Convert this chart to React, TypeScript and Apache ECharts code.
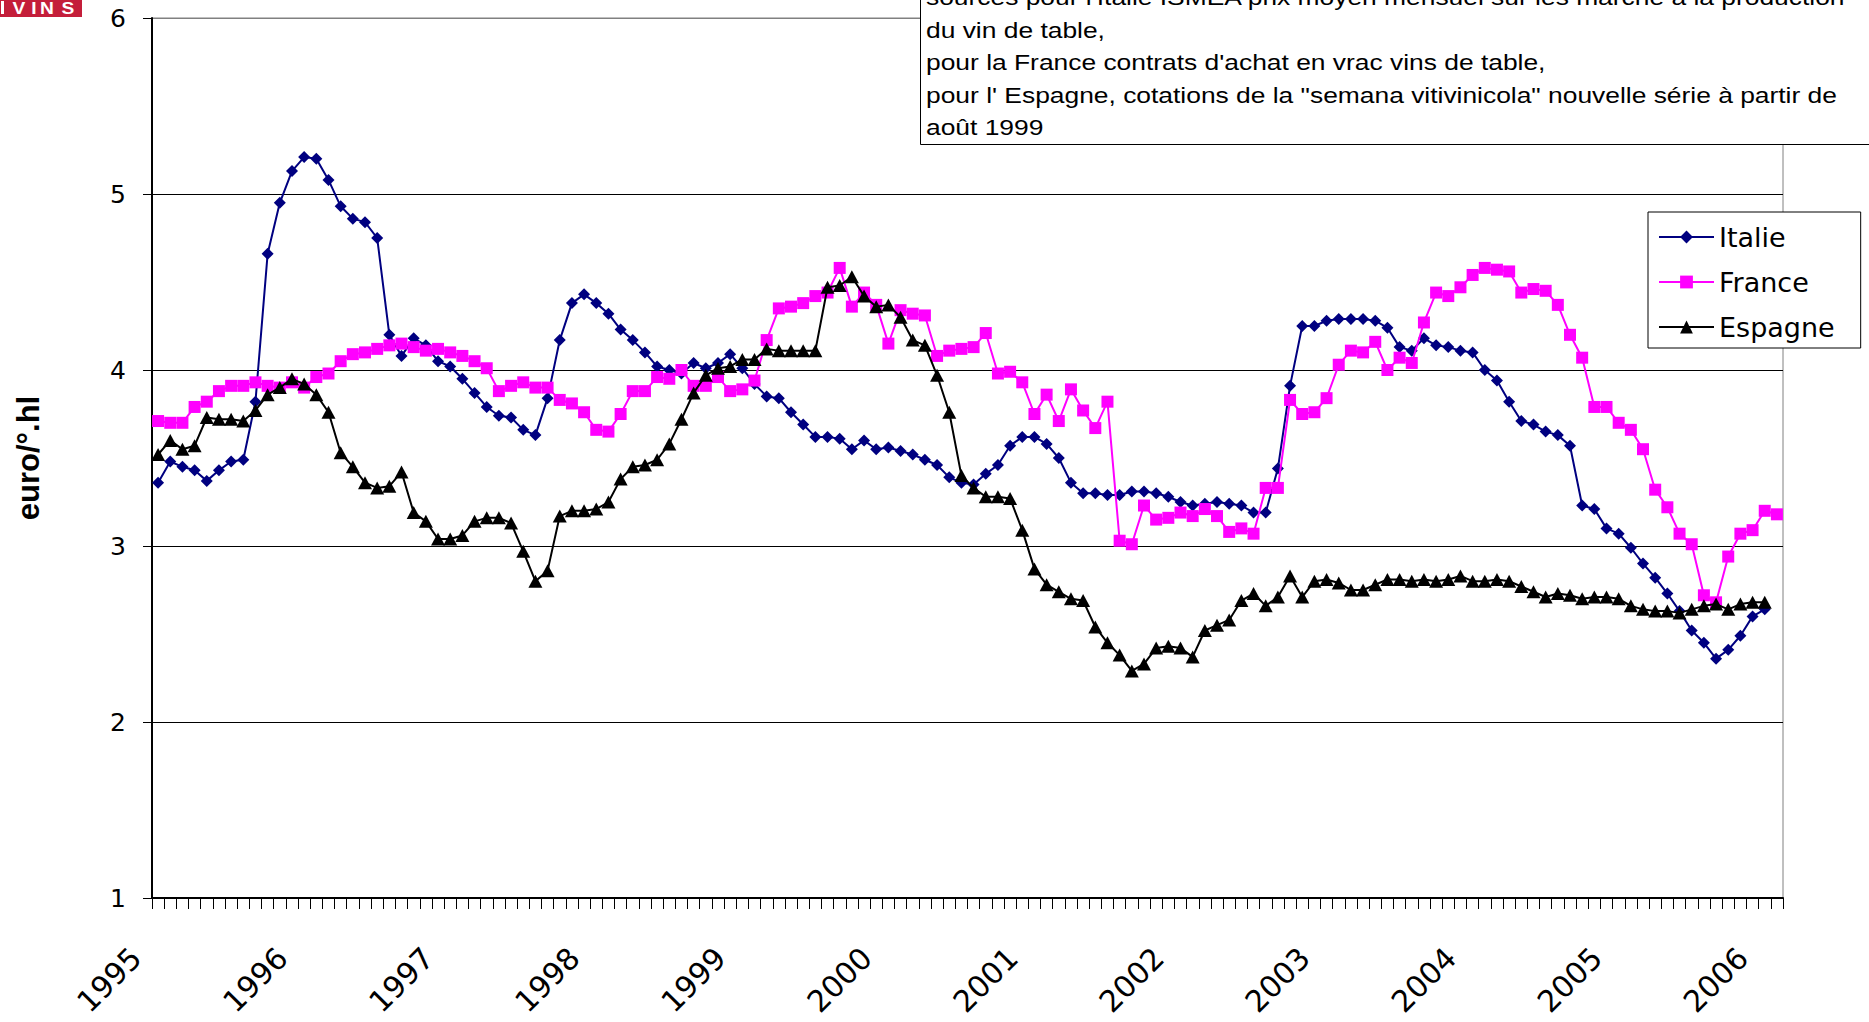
import React, { useEffect, useRef } from 'react';
import * as echarts from 'echarts';

const years = ['1995', '1996', '1997', '1998', '1999', '2000', '2001', '2002', '2003', '2004', '2005', '2006'];
const months = ['01', '02', '03', '04', '05', '06', '07', '08', '09', '10', '11', '12'];
const monthCount = 134;
const categories = years.flatMap((y) => months.map((m) => `${y}-${m}`)).slice(0, monthCount);

const seriesNames = ['Italie', 'France', 'Espagne'];

const italie = [
  3.36, 3.48, 3.45, 3.43, 3.37, 3.43, 3.48, 3.49, 3.82, 4.66, 4.95, 5.13,
  5.21, 5.20, 5.08, 4.93, 4.86, 4.84, 4.75, 4.20, 4.08, 4.18, 4.14, 4.05,
  4.02, 3.95, 3.87, 3.79, 3.74, 3.73, 3.66, 3.63, 3.84, 4.17, 4.38, 4.43,
  4.38, 4.32, 4.23, 4.17, 4.10, 4.02, 4.00, 3.98, 4.04, 4.01, 4.04, 4.09,
  4.01, 3.92, 3.85, 3.84, 3.76, 3.69, 3.62, 3.62, 3.61, 3.55, 3.60, 3.55,
  3.56, 3.54, 3.52, 3.49, 3.46, 3.39, 3.36, 3.35, 3.41, 3.46, 3.57, 3.62,
  3.62, 3.58, 3.50, 3.36, 3.30, 3.30, 3.29, 3.29, 3.31, 3.31, 3.30, 3.28,
  3.25, 3.23, 3.24, 3.25, 3.24, 3.23, 3.19, 3.19, 3.44, 3.91, 4.25, 4.25,
  4.28, 4.29, 4.29, 4.29, 4.28, 4.24, 4.13, 4.11, 4.18, 4.14, 4.13, 4.11,
  4.10, 4.00, 3.94, 3.82, 3.71, 3.69, 3.65, 3.63, 3.57, 3.23, 3.21, 3.10,
  3.07, 2.99, 2.90, 2.82, 2.73, 2.63, 2.52, 2.45, 2.36, 2.41, 2.49, 2.60,
  2.64,
];

const france = [
  3.71, 3.70, 3.70, 3.79, 3.82, 3.88, 3.91, 3.91, 3.93, 3.91, 3.90, 3.93,
  3.90, 3.96, 3.98, 4.05, 4.09, 4.10, 4.12, 4.14, 4.15, 4.13, 4.11, 4.12,
  4.10, 4.08, 4.05, 4.01, 3.88, 3.91, 3.93, 3.90, 3.90, 3.83, 3.81, 3.76,
  3.66, 3.65, 3.75, 3.88, 3.88, 3.96, 3.95, 4.00, 3.91, 3.91, 3.96, 3.88,
  3.89, 3.94, 4.17, 4.35, 4.36, 4.38, 4.42, 4.44, 4.58, 4.36, 4.44, 4.37,
  4.15, 4.34, 4.32, 4.31, 4.08, 4.11, 4.12, 4.13, 4.21, 3.98, 3.99, 3.93,
  3.75, 3.86, 3.71, 3.89, 3.77, 3.67, 3.82, 3.03, 3.01, 3.23, 3.15, 3.16,
  3.19, 3.17, 3.21, 3.17, 3.08, 3.10, 3.07, 3.33, 3.33, 3.83, 3.75, 3.76,
  3.84, 4.03, 4.11, 4.10, 4.16, 4.00, 4.07, 4.04, 4.27, 4.44, 4.42, 4.47,
  4.54, 4.58, 4.57, 4.56, 4.44, 4.46, 4.45, 4.37, 4.20, 4.07, 3.79, 3.79,
  3.70, 3.66, 3.55, 3.32, 3.22, 3.07, 3.01, 2.72, 2.68, 2.94, 3.07, 3.09,
  3.20, 3.18,
];

const espagne = [
  3.52, 3.60, 3.55, 3.57, 3.73, 3.72, 3.72, 3.71, 3.77, 3.86, 3.90, 3.95,
  3.92, 3.86, 3.76, 3.53, 3.45, 3.36, 3.33, 3.34, 3.42, 3.19, 3.14, 3.04,
  3.04, 3.06, 3.14, 3.16, 3.16, 3.13, 2.97, 2.80, 2.86, 3.17, 3.20, 3.20,
  3.21, 3.25, 3.38, 3.45, 3.46, 3.49, 3.58, 3.72, 3.87, 3.97, 4.01, 4.02,
  4.06, 4.06, 4.12, 4.11, 4.11, 4.11, 4.11, 4.47, 4.48, 4.53, 4.42, 4.36,
  4.37, 4.30, 4.17, 4.14, 3.97, 3.76, 3.40, 3.33, 3.28, 3.28, 3.27, 3.09,
  2.87, 2.78, 2.74, 2.70, 2.69, 2.54, 2.45, 2.38, 2.29, 2.33, 2.42, 2.43,
  2.42, 2.37, 2.52, 2.55, 2.58, 2.69, 2.73, 2.66, 2.71, 2.83, 2.71, 2.80,
  2.81, 2.79, 2.75, 2.75, 2.78, 2.81, 2.81, 2.80, 2.81, 2.80, 2.81, 2.83,
  2.80, 2.80, 2.81, 2.80, 2.77, 2.74, 2.71, 2.73, 2.72, 2.70, 2.71, 2.71,
  2.70, 2.66, 2.64, 2.63, 2.63, 2.62, 2.64, 2.66, 2.67, 2.64, 2.67, 2.68,
  2.68,
];

const yAxisName = 'euro/°.hl';

const noteLines = [
  "sources pour l'Italie ISMEA prix moyen mensuel sur les marché à la production",
  'du vin de table,',
  "pour la France contrats d'achat en vrac vins de table,",
  'pour l\' Espagne, cotations de la "semana vitivinicola" nouvelle série à partir de',
  'août 1999',
];

const logoLetters = ['V', 'I', 'N', 'S'];
const logoLetterX = [19, 34, 47, 68];

export default function App() {
  const ref = useRef<HTMLDivElement>(null);

  useEffect(() => {
    if (!ref.current) return;
    const chart = echarts.init(ref.current, null, { renderer: 'svg' });

    const graphic: any[] = [
      {
        type: 'rect',
        z: 100,
        shape: { x: 920.5, y: -20, width: 1000, height: 164.5 },
        style: { fill: '#fff', stroke: '#000', lineWidth: 1 },
      },
      {
        type: 'text',
        z: 101,
        x: 926,
        y: -19,
        scaleX: 1.2,
        style: {
          text: noteLines.join('\n'),
          fill: '#000',
          fontSize: 22,
          fontFamily: '"Liberation Sans", Arial, sans-serif',
          lineHeight: 32.6,
          verticalAlign: 'top',
          align: 'left',
        },
      },
      {
        type: 'rect',
        z: 100,
        shape: { x: 0, y: 0, width: 82, height: 17 },
        style: { fill: '#C41E3A' },
      },
      {
        type: 'rect',
        z: 101,
        shape: { x: 1, y: 1, width: 3, height: 13 },
        style: { fill: '#fff' },
      },
      ...logoLetters.map((l, i) => ({
        type: 'text',
        z: 101,
        x: logoLetterX[i],
        y: 8.5,
        scaleX: 1.2,
        style: {
          text: l,
          fill: '#fff',
          fontSize: 16,
          fontWeight: 'bold',
          fontFamily: '"Liberation Sans", Arial, sans-serif',
          align: 'center',
          verticalAlign: 'middle',
        },
      })),
    ];

    const option: any = {
      animation: false,
      backgroundColor: '#fff',
      grid: {
        left: 152,
        top: 18,
        width: 1631,
        height: 880,
        show: true,
        borderColor: '#808080',
        borderWidth: 1,
        backgroundColor: 'transparent',
      },
      legend: {
        data: seriesNames,
        orient: 'vertical',
        left: 1648,
        top: 212,
        padding: [10, 26, 6, 10],
        itemGap: 15,
        itemWidth: 55,
        itemHeight: 16,
        selectedMode: false,
        backgroundColor: '#fff',
        borderColor: '#000',
        borderWidth: 1,
        z: 50,
        textStyle: {
          fontFamily: '"DejaVu Sans", sans-serif',
          fontSize: 27,
          color: '#000',
          lineHeight: 30,
        },
      },
      xAxis: {
        type: 'category',
        data: categories,
        boundaryGap: true,
        axisLine: { show: true, lineStyle: { color: '#000', width: 2 } },
        axisTick: { show: true, interval: 0, length: 11, lineStyle: { color: '#000', width: 1 } },
        axisLabel: {
          interval: 11,
          rotate: 45,
          margin: 33,
          padding: [0, 31, 0, 0],
          fontSize: 30,
          fontFamily: '"DejaVu Sans", sans-serif',
          color: '#000',
          formatter: (v: string) => v.slice(0, 4),
        },
        splitLine: { show: false },
      },
      yAxis: {
        type: 'value',
        min: 1,
        max: 6,
        interval: 1,
        name: yAxisName,
        nameLocation: 'middle',
        nameGap: 108,
        nameTextStyle: {
          fontSize: 31,
          fontWeight: 'bold',
          fontFamily: '"Liberation Sans", Arial, sans-serif',
          color: '#000',
        },
        axisLine: { show: true, lineStyle: { color: '#000', width: 2 } },
        axisTick: { show: true, length: 9, lineStyle: { color: '#000', width: 1 } },
        axisLabel: {
          margin: 26,
          fontSize: 25,
          fontFamily: '"DejaVu Sans", sans-serif',
          color: '#000',
        },
        splitLine: {
          show: true,
          lineStyle: { color: ['#000', '#000', '#000', '#000', '#000', '#808080'], width: 1 },
        },
      },
      series: [
        {
          name: seriesNames[0],
          type: 'line',
          data: italie,
          symbol: 'diamond',
          symbolSize: 12,
          showAllSymbol: true,
          lineStyle: { color: '#000080', width: 2 },
          itemStyle: { color: '#000080' },
          z: 2,
        },
        {
          name: seriesNames[1],
          type: 'line',
          data: france,
          symbol: 'rect',
          symbolSize: 12,
          showAllSymbol: true,
          lineStyle: { color: '#FF00FF', width: 2 },
          itemStyle: { color: '#FF00FF' },
          z: 3,
        },
        {
          name: seriesNames[2],
          type: 'line',
          data: espagne,
          symbol: 'triangle',
          symbolSize: [14, 13],
          showAllSymbol: true,
          lineStyle: { color: '#000', width: 2 },
          itemStyle: { color: '#000' },
          z: 4,
        },
      ],
      graphic,
    };

    chart.setOption(option);
    return () => chart.dispose();
  }, []);

  return (
    <div
      ref={ref}
      style={{ position: 'absolute', left: 0, top: 0, width: 1869, height: 1022, background: '#fff' }}
    />
  );
}
